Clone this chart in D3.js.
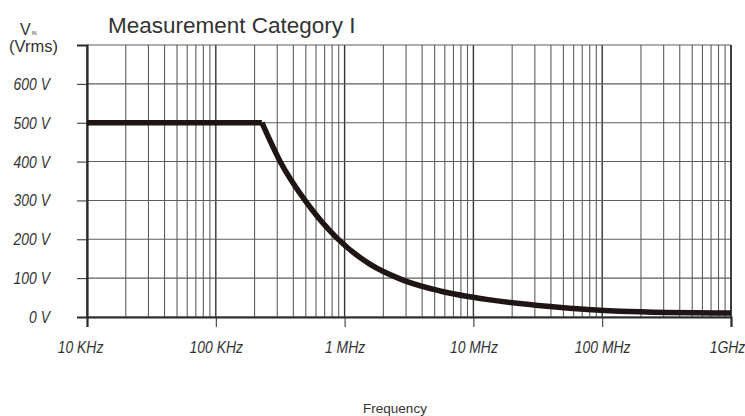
<!DOCTYPE html>
<html>
<head>
<meta charset="utf-8">
<title>Measurement Category I</title>
<script src="https://d3js.org/d3.v7.min.js"></script>
<style>
body { margin: 0; background: #fff; }
.grid line { stroke: #5e5e5e; stroke-width: 1.1; }
.grid .major { stroke: #333; stroke-width: 1.4; }
.axis path, .axis line { stroke: #2a2a2a; }
.axis text { font-family: "Liberation Sans", Arial, sans-serif; font-style: italic; font-size: 17px; fill: #333; }
.curve { fill: none; stroke: #1f1515; stroke-width: 5.5; stroke-linejoin: miter; }
</style>
</head>
<body>
<script>
// frequency (Hz) vs max input voltage (Vrms)
var freq  = [1e4, 2.28e5, 3.15e5, 5.11e5, 8.73e5, 1.57e6, 2.84e6, 5.51e6, 1.35e7, 3.94e7, 1.37e8, 1e9];
var volts = [500, 500,    401,    293,    203,    136,    95,     67,     44,     27,     15,     10];

var xTickVals = [1e4, 1e5, 1e6, 1e7, 1e8, 1e9];
var xTickLabels = ["10 KHz", "100 KHz", "1 MHz", "10 MHz", "100 MHz", "1GHz"];
var yTickVals = [0, 100, 200, 300, 400, 500, 600];
var yTickLabels = ["0 V", "100 V", "200 V", "300 V", "400 V", "500 V", "600 V"];

var width = 745, height = 416;
var plotL = 87, plotR = 731, plotT = 45, plotB = 317;

var x = d3.scaleLog().domain([1e4, 1e9]).range([plotL, plotR]);
var y = d3.scaleLinear().domain([0, 700]).range([plotB, plotT]);

var svg = d3.select("body").append("svg")
    .attr("width", width)
    .attr("height", height);

// minor + major vertical grid lines (1..9 per decade)
var vlines = [];
for (var e = 4; e < 9; e++) {
  for (var m = 1; m < 10; m++) vlines.push(m * Math.pow(10, e));
}
vlines.push(1e9);

var grid = svg.append("g").attr("class", "grid");
grid.selectAll("line.v")
    .data(vlines)
  .enter().append("line")
    .attr("class", function(d) { return Math.abs(Math.log10(d) % 1) < 1e-9 ? "v major" : "v"; })
    .attr("x1", function(d) { return x(d); })
    .attr("x2", function(d) { return x(d); })
    .attr("y1", y(700))
    .attr("y2", y(0));

grid.selectAll("line.h")
    .data(d3.range(0, 701, 100))
  .enter().append("line")
    .attr("class", "h")
    .attr("x1", x(1e4))
    .attr("x2", x(1e9))
    .attr("y1", function(d) { return y(d); })
    .attr("y2", function(d) { return y(d); });

// axes
var yAxis = svg.append("g")
    .attr("class", "axis")
    .attr("transform", "translate(" + plotL + ",0)")
    .call(d3.axisLeft(y).tickValues(yTickVals.concat([700])).tickSize(10).tickPadding(26)
      .tickFormat(function(d) { var i = yTickVals.indexOf(d); return i < 0 ? "" : yTickLabels[i]; }));
yAxis.select(".domain").attr("stroke-width", 2.2);
yAxis.selectAll("text")
    .attr("transform", "scale(0.82,1)")
    .attr("x", -37 / 0.82);

var xAxis = svg.append("g")
    .attr("class", "axis")
    .attr("transform", "translate(0," + plotB + ")")
    .call(d3.axisBottom(x).tickValues(xTickVals).tickSize(10).tickPadding(14)
      .tickFormat(function(d, i) { return xTickLabels[i]; }));
xAxis.select(".domain").attr("stroke-width", 2.2);
xAxis.selectAll(".tick text")
    .attr("transform", "scale(0.82,1)")
    .attr("dx", function(d, i) { return i === 0 ? -7 / 0.82 : (i === 5 ? -4 / 0.82 : 0); });

// right border
svg.append("line")
    .attr("x1", x(1e9)).attr("x2", x(1e9))
    .attr("y1", y(700)).attr("y2", y(0))
    .attr("stroke", "#333").attr("stroke-width", 1.6);

// curve: flat part straight, falling part smoothed (sharp knee)
var line = d3.line()
    .x(function(d) { return x(d[0]); })
    .y(function(d) { return y(d[1]); });

var pts = freq.map(function(f, i) { return [f, volts[i]]; });

svg.append("path")
    .datum(pts.slice(0, 2))
    .attr("class", "curve")
    .attr("d", line.curve(d3.curveLinear));

svg.append("path")
    .datum(pts.slice(1))
    .attr("class", "curve")
    .attr("d", line.curve(d3.curveMonotoneX));

// title and labels
svg.append("text")
    .attr("x", 108).attr("y", 33)
    .attr("font-family", "Liberation Sans, Arial, sans-serif")
    .attr("font-size", 22.5)
    .attr("fill", "#333")
    .text("Measurement Category I");

var vin = svg.append("text")
    .attr("x", 20).attr("y", 35)
    .attr("font-family", "Liberation Sans, Arial, sans-serif")
    .attr("font-size", 16)
    .attr("fill", "#333");
vin.append("tspan").text("V");
vin.append("tspan").attr("font-size", 5).attr("dx", 1).text("IN");

svg.append("text")
    .attr("x", 9).attr("y", 52)
    .attr("font-family", "Liberation Sans, Arial, sans-serif")
    .attr("font-size", 16.5)
    .attr("fill", "#333")
    .text("(Vrms)");

svg.append("text")
    .attr("x", 395).attr("y", 413)
    .attr("text-anchor", "middle")
    .attr("font-family", "Liberation Sans, Arial, sans-serif")
    .attr("font-size", 13.5)
    .attr("fill", "#333")
    .text("Frequency");
</script>
</body>
</html>
